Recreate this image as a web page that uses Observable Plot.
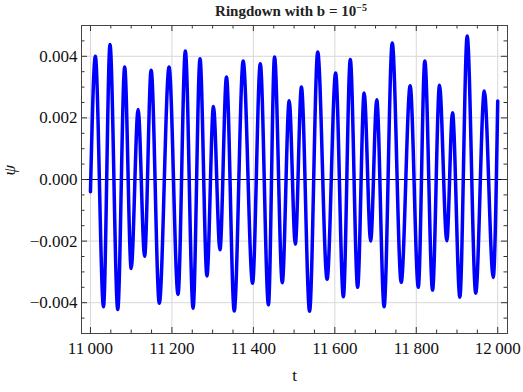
<!DOCTYPE html>
<html>
<head>
<meta charset="utf-8">
<script src="https://cdn.jsdelivr.net/npm/d3@7"></script>
<script src="https://cdn.jsdelivr.net/npm/@observablehq/plot@0.6"></script>
<style>
  html, body { margin: 0; padding: 0; background: #fff; }
  #wrap { position: relative; width: 523px; height: 392px; }
  #title { position: absolute; left: 76px; width: 430px; top: 3px; text-align: center;
           font-family: "Liberation Serif", "Times New Roman", serif; font-weight: bold; font-size: 15px; color: #222; }
  #title sup { font-size: 10px; vertical-align: 5px; line-height: 0; }
  #chart { position: absolute; left: 0; top: 24px; }
</style>
</head>
<body>
<div id="wrap">
  <div id="title">Ringdown with b = 10<sup>−5</sup></div>
  <div id="chart"></div>
</div>
<script>
// Extrema of the ringdown signal (t, psi)
const tValues = [11000, 11012, 11032, 11048, 11067, 11084, 11100, 11117, 11133, 11149, 11169, 11193, 11215, 11233, 11252, 11269, 11286, 11302, 11318, 11334, 11353, 11375, 11398, 11417, 11437, 11452, 11471, 11488, 11503, 11518, 11538, 11558, 11581, 11602, 11621, 11638, 11656, 11672, 11688, 11703, 11721, 11741, 11763, 11785, 11805, 11821, 11840, 11857, 11875, 11889, 11907, 11925, 11946, 11967, 11989, 12000];
const psiValues = [-0.0004, 0.0040, -0.00413, 0.00438, -0.00422, 0.00365, -0.00289, 0.00227, -0.00249, 0.00355, -0.00402, 0.00365, -0.00373, 0.00417, -0.00418, 0.00392, -0.00313, 0.00237, -0.00228, 0.00333, -0.00427, 0.00385, -0.00337, 0.00376, -0.00407, 0.00398, -0.00335, 0.00256, -0.00210, 0.00300, -0.00428, 0.00414, -0.00324, 0.00346, -0.00381, 0.00390, -0.00350, 0.00281, -0.00200, 0.00259, -0.00413, 0.00443, -0.00334, 0.00304, -0.00350, 0.00385, -0.00359, 0.00306, -0.00199, 0.00217, -0.00382, 0.00466, -0.00369, 0.00287, -0.00318, 0.00255];

const xMajorTicks = [11000, 11200, 11400, 11600, 11800, 12000];
const xMinorTicks = [11050, 11100, 11150, 11250, 11300, 11350, 11450, 11500, 11550, 11650, 11700, 11750, 11850, 11900, 11950];
const yMajorTicks = [-0.004, -0.002, 0, 0.002, 0.004];
const yMinorTicks = [-0.0045, -0.0035, -0.003, -0.0025, -0.0015, -0.001, -0.0005, 0.0005, 0.001, 0.0015, 0.0025, 0.003, 0.0035, 0.0045];

const data = tValues.map((t, i) => ({t, psi: psiValues[i]}));

const W = 523, H = 368;
const mL = 81, mR = 16, mT = 1, mB = 59;
const frameW = W - mL - mR, frameH = H - mT - mB;
const serif = "Liberation Serif";
const xFmt = d => { const s = String(d); return s.slice(0, s.length - 3) + "\u2009" + s.slice(-3); };
const yFmt = d3.format(".3f");
const tickColor = "#333";

const plot = Plot.plot({
  width: W, height: H,
  marginLeft: mL, marginRight: mR, marginTop: mT, marginBottom: mB,
  style: {background: "#fff", color: "#111"},
  x: {domain: [10978, 12024], axis: null},
  y: {domain: [-0.005, 0.005], axis: null},
  marks: [
    Plot.gridX(xMajorTicks, {stroke: "#d8d8d8", strokeOpacity: 1, strokeWidth: 1}),
    Plot.gridY(yMajorTicks.filter(d => d !== 0), {stroke: "#d8d8d8", strokeOpacity: 1, strokeWidth: 1}),
    Plot.ruleY([0], {stroke: "#000", strokeWidth: 1}),
    Plot.tickX(xMajorTicks, {x: d => d, insetTop: frameH - 6, stroke: tickColor}),
    Plot.tickX(xMinorTicks, {x: d => d, insetTop: frameH - 3.5, stroke: tickColor}),
    Plot.tickX(xMajorTicks, {x: d => d, insetBottom: frameH - 6, stroke: tickColor}),
    Plot.tickX(xMinorTicks, {x: d => d, insetBottom: frameH - 3.5, stroke: tickColor}),
    Plot.tickY(yMajorTicks, {y: d => d, insetRight: frameW - 6, stroke: tickColor}),
    Plot.tickY(yMinorTicks, {y: d => d, insetRight: frameW - 3.5, stroke: tickColor}),
    Plot.tickY(yMajorTicks, {y: d => d, insetLeft: frameW - 6, stroke: tickColor}),
    Plot.tickY(yMinorTicks, {y: d => d, insetLeft: frameW - 3.5, stroke: tickColor}),
    Plot.line(data, {x: "t", y: "psi", stroke: "#0000ff", strokeWidth: 3.5, curve: "monotone-x"}),
    Plot.frame({stroke: "#444", strokeWidth: 1}),
    Plot.axisX(xMajorTicks, {tickSize: 0, tickPadding: 8, tickFormat: xFmt, fontSize: 17, fill: "#111", label: null, fontFamily: serif}),
    Plot.axisY(yMajorTicks, {tickSize: 0, tickPadding: 4, tickFormat: yFmt, fontSize: 17, fill: "#111", label: null, fontFamily: serif}),
    Plot.text(["t"], {frameAnchor: "bottom", dy: 47, fontSize: 17, fill: "#111", fontFamily: serif}),
    Plot.text(["ψ"], {frameAnchor: "left", dx: -72, dy: -4, rotate: -90, fontSize: 17, fontStyle: "italic", fill: "#111", fontFamily: serif})
  ]
});
document.getElementById("chart").appendChild(plot);
</script>
</body>
</html>
